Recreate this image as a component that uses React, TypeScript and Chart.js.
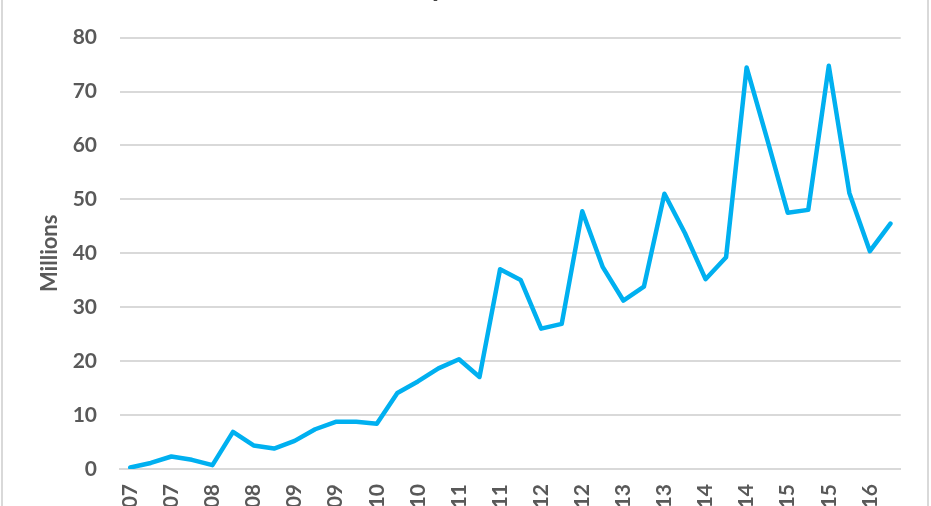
import React, { useEffect, useRef } from "react";
import { Chart, registerables } from "chart.js";

Chart.register(...registerables);

const chartTitle = "Quarterly Unit Sales";
const yAxisTitle = "Millions";

const quarters = [
  "Q2 2007", "Q3 2007", "Q4 2007",
  "Q1 2008", "Q2 2008", "Q3 2008", "Q4 2008",
  "Q1 2009", "Q2 2009", "Q3 2009", "Q4 2009",
  "Q1 2010", "Q2 2010", "Q3 2010", "Q4 2010",
  "Q1 2011", "Q2 2011", "Q3 2011", "Q4 2011",
  "Q1 2012", "Q2 2012", "Q3 2012", "Q4 2012",
  "Q1 2013", "Q2 2013", "Q3 2013", "Q4 2013",
  "Q1 2014", "Q2 2014", "Q3 2014", "Q4 2014",
  "Q1 2015", "Q2 2015", "Q3 2015", "Q4 2015",
  "Q1 2016", "Q2 2016", "Q3 2016",
];

const unitSales = [
  0.27, 1.12, 2.32, 1.7, 0.72, 6.89, 4.36, 3.79, 5.21, 7.37,
  8.74, 8.75, 8.4, 14.1, 16.24, 18.65, 20.34, 17.07, 37.04, 35.06,
  26.03, 26.91, 47.79, 37.43, 31.24, 33.8, 51.03, 43.72, 35.2, 39.27,
  74.47, 61.17, 47.53, 48.05, 74.78, 51.19, 40.4, 45.51,
];

const yMin = 0;
const yMax = 80;
const yStep = 10;

const textColor = "#595959";
const gridColor = "#d9d9d9";
const lineColor = "#00b0f0";
const fontFamily = "Lato, 'Open Sans', sans-serif";

export default function App() {
  const canvasRef = useRef<HTMLCanvasElement | null>(null);

  useEffect(() => {
    if (!canvasRef.current) return;
    const chart = new Chart(canvasRef.current, {
      type: "line",
      data: {
        labels: quarters,
        datasets: [
          {
            label: yAxisTitle,
            data: unitSales,
            borderColor: lineColor,
            backgroundColor: lineColor,
            borderWidth: 4.5,
            pointRadius: 0,
            tension: 0,
            borderJoinStyle: "round",
            borderCapStyle: "round",
          },
        ],
      },
      options: {
        animation: false,
        responsive: true,
        maintainAspectRatio: false,
        layout: { padding: { left: 0, right: 28, top: 0, bottom: 0 } },
        plugins: {
          legend: { display: false },
          tooltip: { enabled: false },
          title: {
            display: true,
            text: chartTitle,
            color: "#404040",
            font: { family: fontFamily, size: 30, weight: "bold" },
            padding: { top: 8, bottom: 33.6 },
          },
        },
        scales: {
          x: {
            offset: true,
            grid: { display: false, drawTicks: false },
            border: { display: true, color: gridColor, width: 2 },
            ticks: {
              autoSkip: false,
              minRotation: 90,
              maxRotation: 90,
              padding: 15,
              color: textColor,
              font: { family: fontFamily, size: 21, weight: "bold" },
              callback: (_v: any, i: number) => (i % 2 === 0 ? quarters[i] : ""),
            },
            afterFit: (s: any) => {
              s.height = 91;
            },
          },
          y: {
            min: yMin,
            max: yMax,
            ticks: {
              stepSize: yStep,
              padding: 23,
              color: textColor,
              font: { family: fontFamily, size: 21, weight: "bold" },
            },
            grid: { color: gridColor, lineWidth: 2, drawTicks: false },
            border: { display: false },
            title: {
              display: true,
              text: yAxisTitle,
              color: textColor,
              font: { family: fontFamily, size: 22, weight: "bold" },
              padding: { top: 37, bottom: 0 },
            },
            afterFit: (s: any) => {
              s.width = 120;
            },
          },
        },
      },
    } as any);
    return () => chart.destroy();
  }, []);

  return (
    <div
      style={{
        position: "fixed",
        top: 0,
        left: 0,
        width: 931,
        height: 506,
        overflow: "hidden",
        background: "#ffffff",
      }}
    >
      <div
        style={{
          position: "absolute",
          top: -40,
          left: 0,
          width: 931,
          height: 600,
        }}
      >
        <canvas ref={canvasRef} />
      </div>
      <div
        style={{
          position: "absolute",
          top: -2,
          left: 1,
          width: 928,
          height: 510,
          boxSizing: "border-box",
          borderLeft: `2px solid ${gridColor}`,
          borderRight: `2px solid ${gridColor}`,
          pointerEvents: "none",
        }}
      />
    </div>
  );
}
